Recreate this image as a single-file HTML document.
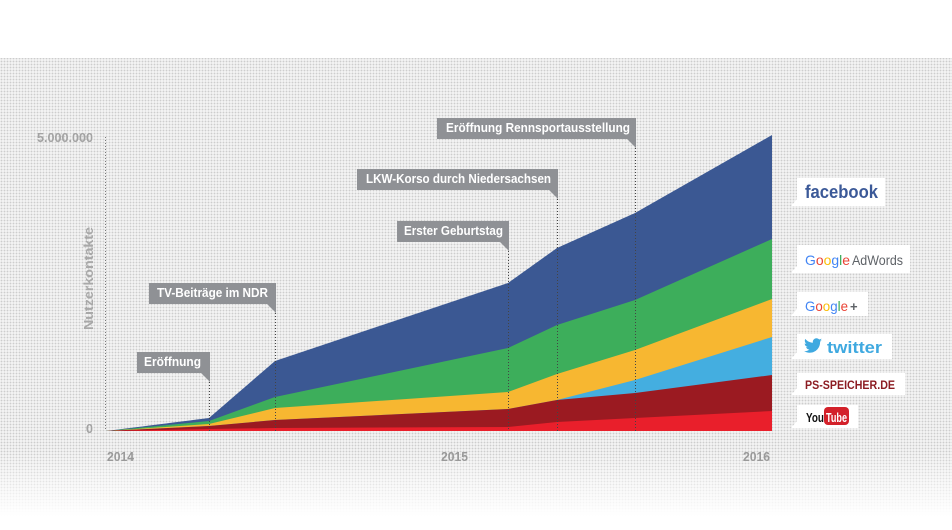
<!DOCTYPE html>
<html>
<head>
<meta charset="utf-8">
<style>
html,body{margin:0;padding:0;background:#fff;}
body{width:952px;height:530px;overflow:hidden;}
svg{display:block;}
text{font-family:"Liberation Sans",sans-serif;}
</style>
</head>
<body>
<svg width="952" height="530" viewBox="0 0 952 530" xmlns="http://www.w3.org/2000/svg">
  <defs>
    <pattern id="dots" x="0" y="0" width="3" height="3" patternUnits="userSpaceOnUse">
      <rect x="0" y="0" width="3" height="3" fill="#ffffff"/>
      <rect x="0.5" y="0.5" width="2" height="2" fill="#cdcdcd"/>
    </pattern>
    <linearGradient id="fade" x1="0" y1="0" x2="0" y2="1" gradientUnits="objectBoundingBox">
      <stop offset="0" stop-color="#fff"/>
      <stop offset="0.86" stop-color="#fff"/>
      <stop offset="1" stop-color="#000"/>
    </linearGradient>
    <mask id="fm" maskUnits="userSpaceOnUse" x="0" y="58" width="952" height="472">
      <rect x="0" y="58" width="952" height="458" fill="url(#fade)"/>
    </mask>
  </defs>

  <!-- background -->
  <rect x="0" y="0" width="952" height="530" fill="#ffffff"/>
  <rect x="0" y="58" width="952" height="458" fill="url(#dots)" mask="url(#fm)"/>

  <!-- y axis dotted line -->
  <line x1="105.5" y1="137" x2="105.5" y2="431" stroke="#777" stroke-width="1" stroke-dasharray="1,2"/>

  <!-- stacked areas -->
  <polygon fill="#3b5893" points="106,431 209,418 275,361 508,283 557,248 635,213 772,135 772,431"/>
  <polygon fill="#3dae5b" points="106,431 209,421 275,397 508,348 557,325 635,300 772,239 772,431"/>
  <polygon fill="#f7b731" points="106,431 209,424 275,408 508,392 557,374 635,350 772,299 772,431"/>
  <polygon fill="#44aee0" points="106,431 209,426 275,420 508,409 557,400 635,380 772,337 772,431"/>
  <polygon fill="#9b1a21" points="106,431 209,426 275,420 508,409 557,400 635,393 772,375 772,431"/>
  <polygon fill="#e91f2b" points="106,431 209,429 275,428 508,427 557,422 635,418 772,411 772,431"/>

  <!-- event dotted lines -->
  <g stroke="#444" stroke-width="1" stroke-dasharray="1,2">
    <line x1="209.5" y1="382" x2="209.5" y2="431"/>
    <line x1="275.5" y1="313" x2="275.5" y2="431"/>
    <line x1="508.5" y1="251" x2="508.5" y2="431"/>
    <line x1="557.5" y1="199" x2="557.5" y2="431"/>
    <line x1="635.5" y1="148" x2="635.5" y2="431"/>
  </g>

  <!-- annotation boxes -->
  <g fill="#8f9195">
    <rect x="137" y="352" width="73" height="21"/>
    <polygon points="201,373 210,373 210,382"/>
    <rect x="149" y="283" width="127" height="21"/>
    <polygon points="267,304 276,304 276,313"/>
    <rect x="397" y="221" width="112" height="21"/>
    <polygon points="500,242 509,242 509,251"/>
    <rect x="357" y="169" width="201" height="21"/>
    <polygon points="549,190 558,190 558,199"/>
    <rect x="437" y="118" width="199" height="21"/>
    <polygon points="627,139 636,139 636,148"/>
  </g>
  <g fill="#ffffff" font-size="12.5" font-weight="bold">
    <text x="144" y="366" textLength="57" lengthAdjust="spacingAndGlyphs">Eröffnung</text>
    <text x="157" y="297" textLength="111" lengthAdjust="spacingAndGlyphs">TV-Beiträge im NDR</text>
    <text x="404" y="235" textLength="99" lengthAdjust="spacingAndGlyphs">Erster Geburtstag</text>
    <text x="366" y="183" textLength="185" lengthAdjust="spacingAndGlyphs">LKW-Korso durch Niedersachsen</text>
    <text x="446" y="132" textLength="184" lengthAdjust="spacingAndGlyphs">Eröffnung Rennsportausstellung</text>
  </g>

  <!-- axis labels -->
  <g fill="#a3a3a3" font-size="12.5" font-weight="bold">
    <text x="93" y="142" text-anchor="end" textLength="56" lengthAdjust="spacingAndGlyphs">5.000.000</text>
    <text x="93" y="433" text-anchor="end">0</text>
  </g>
  <text transform="translate(93,330) rotate(-90)" fill="#a8a8a8" font-size="13" font-weight="bold" textLength="103" lengthAdjust="spacingAndGlyphs">Nutzerkontakte</text>
  <g fill="#999999" font-size="12.5" font-weight="bold">
    <text x="107" y="461" textLength="27" lengthAdjust="spacingAndGlyphs">2014</text>
    <text x="441" y="461" textLength="27" lengthAdjust="spacingAndGlyphs">2015</text>
    <text x="743" y="461" textLength="27" lengthAdjust="spacingAndGlyphs">2016</text>
  </g>

  <!-- legend boxes -->
  <g fill="#ffffff">
    <rect x="797" y="178" width="88" height="28"/>
    <polygon points="797,199 797,206 791,206"/>
    <rect x="797" y="245" width="113" height="28"/>
    <polygon points="797,266 797,273 791,273"/>
    <rect x="797" y="292" width="71" height="24"/>
    <polygon points="797,309 797,316 791,316"/>
    <rect x="797" y="334" width="95" height="25"/>
    <polygon points="797,352 797,359 791,359"/>
    <rect x="797" y="373" width="108" height="22"/>
    <polygon points="797,388 797,395 791,395"/>
    <rect x="797" y="405" width="61" height="23"/>
    <polygon points="797,421 797,428 791,428"/>
  </g>

  <!-- facebook -->
  <text x="805" y="198" fill="#3b5998" font-size="18" font-weight="bold" textLength="73" lengthAdjust="spacingAndGlyphs">facebook</text>

  <!-- Google AdWords -->
  <text x="805" y="265" font-size="14" textLength="45" lengthAdjust="spacingAndGlyphs"><tspan fill="#4285f4">G</tspan><tspan fill="#ea4335">o</tspan><tspan fill="#fbbc05">o</tspan><tspan fill="#4285f4">g</tspan><tspan fill="#34a853">l</tspan><tspan fill="#ea4335">e</tspan></text>
  <text x="852" y="265" font-size="14" fill="#5f6368" textLength="51" lengthAdjust="spacingAndGlyphs">AdWords</text>

  <!-- Google+ -->
  <text x="805" y="311" font-size="14" textLength="43" lengthAdjust="spacingAndGlyphs"><tspan fill="#4285f4">G</tspan><tspan fill="#ea4335">o</tspan><tspan fill="#fbbc05">o</tspan><tspan fill="#4285f4">g</tspan><tspan fill="#34a853">l</tspan><tspan fill="#ea4335">e</tspan></text>
  <text x="850" y="311" font-size="13" font-weight="bold" fill="#5f6368">+</text>

  <!-- twitter -->
  <path fill="#3fa9e0" d="M822,340 c-0.7,0.3 -1.4,0.5 -2.1,0.6 c0.8,-0.5 1.3,-1.2 1.6,-2 c-0.7,0.4 -1.5,0.7 -2.3,0.9 c-0.7,-0.7 -1.6,-1.2 -2.7,-1.2 c-2,0 -3.7,1.7 -3.7,3.7 c0,0.3 0,0.6 0.1,0.8 c-3.1,-0.2 -5.8,-1.600 -7.6,-3.9 c-0.3,0.5 -0.5,1.2 -0.5,1.9 c0,1.3 0.7,2.4 1.6,3.1 c-0.6,0 -1.2,-0.2 -1.7,-0.5 c0,1.8 1.3,3.3 3,3.6 c-0.3,0.1 -0.6,0.1 -1,0.1 c-0.2,0 -0.5,0 -0.7,-0.1 c0.5,1.5 1.8,2.5 3.4,2.6 c-1.3,1 -2.9,1.6 -4.6,1.6 c-0.3,0 -0.6,0 -0.9,-0.1 c1.6,1 3.6,1.6 5.7,1.6 c6.8,0 10.5,-5.6 10.5,-10.5 l0,-0.5 c0.7,-0.5 1.3,-1.2 1.8,-1.9 z"/>
  <text x="827" y="353" fill="#3fa9e0" font-size="17" font-weight="bold" textLength="55" lengthAdjust="spacingAndGlyphs">twitter</text>

  <!-- PS-SPEICHER.DE -->
  <text x="805" y="389" fill="#8c1c22" font-size="12" font-weight="bold" textLength="90" lengthAdjust="spacingAndGlyphs">PS-SPEICHER.DE</text>

  <!-- YouTube -->
  <text x="806" y="422" fill="#111111" font-size="13" font-weight="bold" textLength="18" lengthAdjust="spacingAndGlyphs">You</text>
  <rect x="824" y="407" width="25" height="18" rx="4" ry="4" fill="#d3212a"/>
  <text x="826" y="422" fill="#ffffff" font-size="13" font-weight="bold" textLength="21" lengthAdjust="spacingAndGlyphs">Tube</text>
</svg>
</body>
</html>
